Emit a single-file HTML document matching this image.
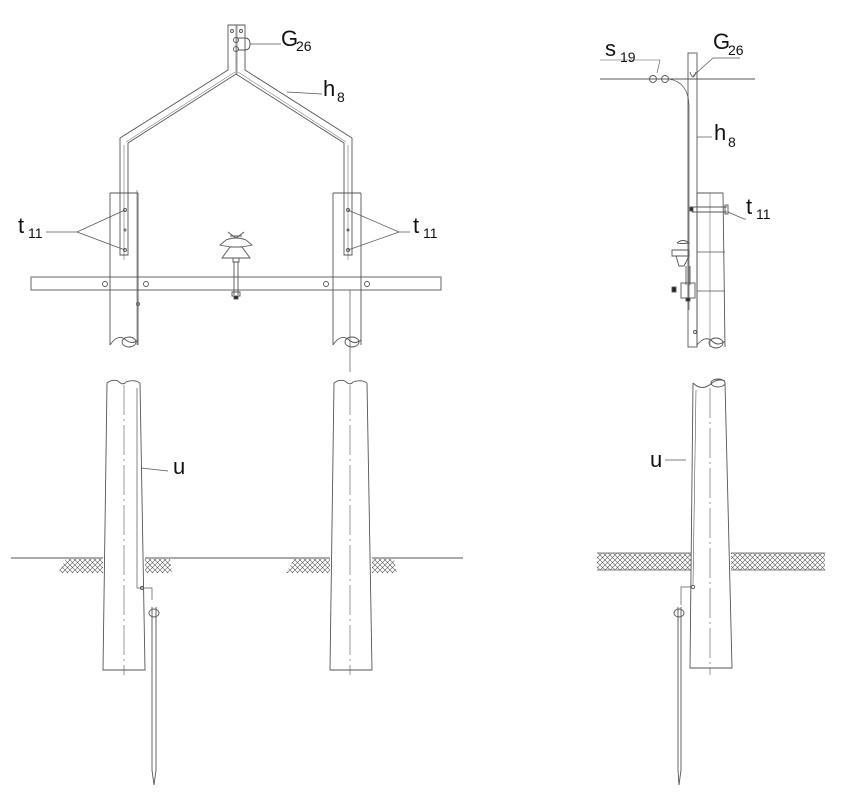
<!DOCTYPE html>
<html><head><meta charset="utf-8"><style>
html,body{margin:0;padding:0;background:#fff;}
svg{display:block;}
text{font-family:"Liberation Sans",sans-serif;fill:#111;}
</style></head><body>
<svg width="850" height="812" viewBox="0 0 850 812" xmlns="http://www.w3.org/2000/svg">
<defs>
<pattern id="hx" width="5" height="5" patternUnits="userSpaceOnUse">
<path d="M0 5 L5 0 M0 0 L5 5" stroke="#555" stroke-width="0.6"/>
</pattern>
</defs>
<g fill="none" stroke="#555" stroke-width="0.9">
<path d="M110 193 V345 M138 193 V345 M110 193 H138"/>
<path d="M110 345 Q118 333 126 340 Q132 345 138 340"/>
<ellipse cx="129" cy="342" rx="7" ry="5"/>
<path d="M333 193 V345 M361 193 V345 M333 193 H361"/>
<path d="M333 345 Q341 333 349 340 Q355 345 361 340"/>
<ellipse cx="352" cy="342" rx="7" ry="5"/>
<path d="M350 290 V372" stroke-width="0.7"/>
<path d="M137 190 V345" stroke-width="0.6"/>
<circle cx="138" cy="304" r="1.5"/>
<path d="M228 25 V70 L120 138 V255 H128 V143 L236 74 L344 143 V255 H352 V138 L245 70 V25 Z"/>
<path d="M236 25 V74 M237 25 V74" stroke-width="0.6"/>
<path d="M124 145 V260 M348 145 V260 M126 142 L235 72 M238 72 L346 142" stroke-width="0.5"/>
<circle cx="232" cy="31" r="1.5"/><circle cx="241" cy="31" r="1.5"/>
<circle cx="236" cy="40" r="2.5"/><circle cx="236" cy="49" r="2.5"/>
<path d="M238 38 H245 Q250 38 250 44 Q250 50 245 50 H238"/>
<path d="M250 44 H281" stroke-width="0.7"/>
<path d="M287 92 L322 94" stroke-width="0.7"/>
<circle cx="125" cy="210" r="1.5"/><circle cx="125" cy="250" r="1.5"/><circle cx="125" cy="230" r="1"/>
<circle cx="348" cy="210" r="1.5"/><circle cx="348" cy="250" r="1.5"/><circle cx="348" cy="230" r="1"/>
<path d="M46 232 H77 L125 210 M77 232 L125 250" stroke-width="0.7"/>
<path d="M410 232 H399 L348 210 M399 232 L348 250" stroke-width="0.7"/>
<rect x="31" y="277" width="410" height="13"/>
<circle cx="105" cy="284" r="2.5"/><circle cx="146" cy="284" r="2.5"/>
<circle cx="326" cy="284" r="2.5"/><circle cx="367" cy="284" r="2.5"/>
<path d="M228 232 Q233 236 236 238 Q239 236 244 232 M230 236 L242 236"/>
<path d="M226 240 Q236 236 246 240 L252 245 Q236 249 220 245 Z"/>
<path d="M230 247 H242 L250 258 H222 Z"/>
<path d="M233 258 V262 H239 V258"/>
<path d="M234 262 V295 M238 262 V295"/>
<path d="M232 292 H240 V296 H232 Z"/>
<rect x="234" y="296" width="4" height="3" fill="#222"/>
<path d="M107 383 L103 670 H145 L140 383"/>
<path d="M107 383 Q112 379 118 381 Q123 386 126 382 Q134 379 140 383"/>
<path d="M334 383 L330 670 H372 L367 383"/>
<path d="M334 383 Q339 379 345 381 Q350 386 353 382 Q361 379 367 383"/>
<path d="M124 385 V675 M350 385 V675" stroke-width="0.6" stroke-dasharray="30 4 2 4"/>
<path d="M11 558 H103 M145 558 H330 M372 558 H463"/>
<path d="M137 388 V588 H142 M142 588 H152 V600" stroke-width="0.7"/>
<circle cx="142" cy="588" r="1.6"/>
<ellipse cx="154" cy="613" rx="5" ry="4"/>
<path d="M152 607 V770 L154 785 L156 770 V607"/>
<path d="M141 468 L168 471" stroke-width="0.7"/>
<path d="M600 79 H755"/>
<circle cx="653" cy="79" r="3.5"/><circle cx="665" cy="79" r="3.5"/>
<path d="M669 79 Q688 82 689 105 V310" stroke-width="0.7"/>
<rect x="688" y="53" width="9" height="294"/>
<path d="M690 72 Q693 82 696 72"/>
<path d="M693 76 L713 58 H740" stroke-width="0.7"/>
<path d="M657 73 L660 60 H600" stroke-width="0.6"/>
<path d="M697 137 H712" stroke-width="0.7"/>
<path d="M697 193 H723 L725 347 M697 193 V347"/>
<path d="M697 345 Q705 335 712 341 Q718 347 725 341"/>
<ellipse cx="716" cy="343" rx="7" ry="5"/>
<path d="M710 193 V347" stroke-width="0.5"/>
<path d="M692 207 H727 M692 212 H727"/><rect x="725" y="205" width="3" height="9"/>
<rect x="690" y="207" width="3" height="4" fill="#222"/>
<path d="M728 212 L744 219 H746" stroke-width="0.7"/>
<path d="M697 252 H725 M697 291 H725" stroke-width="0.7"/>
<path d="M677 243 Q683 238 689 243 Q680 244 677 243 M672 250 H689 V256 H672 Z M676 256 H689 L684 266 H679 Z"/>
<path d="M686 266 V285 M690 266 V285"/>
<rect x="681" y="283" width="14" height="15"/>
<rect x="672" y="287" width="4" height="5" fill="#222"/>
<rect x="686" y="298" width="4" height="3" fill="#222"/>
<circle cx="695" cy="332" r="1.5"/>
<path d="M693 383 L690 668 H732 L725 383"/>
<path d="M693 383 Q702 392 712 383 Q718 378 725 381"/>
<ellipse cx="718" cy="383" rx="7" ry="4"/>
<path d="M710 388 V675" stroke-width="0.6" stroke-dasharray="30 4 2 4"/>
<path d="M696 390 L693 585" stroke-width="0.6"/>
<circle cx="693" cy="587" r="1.6"/>
<path d="M691 587 H681 V605" stroke-width="0.7"/>
<ellipse cx="679" cy="613" rx="5" ry="4"/>
<path d="M678 607 V770 L679 785 L681 770 V607"/>
<path d="M665 460 H686" stroke-width="0.7"/>
</g>
<g stroke="none" fill="url(#hx)">
<path d="M66 559 H103 V573 H58 Z"/>
<path d="M145 559 H170 L172 573 H145 Z"/>
<path d="M294 559 H330 V573 H286 Z"/>
<path d="M372 559 H394 L397 573 H372 Z"/>
<rect x="597" y="553" width="94" height="17"/>
<rect x="731" y="553" width="94" height="17"/>
</g>
<g stroke="#555" stroke-width="0.7" fill="none">
<path d="M597 553 H691 M597 570 H691 M731 553 H825 M731 570 H825"/>
</g>
<text x="281" y="46" font-size="22">G</text><text x="296" y="51" font-size="14">26</text>
<text x="323" y="96" font-size="22">h</text><text x="337" y="102" font-size="14">8</text>
<text x="18" y="233" font-size="22">t</text><text x="28" y="238" font-size="14">11</text>
<text x="413" y="233" font-size="22">t</text><text x="423" y="238" font-size="14">11</text>
<text x="173" y="474" font-size="22">u</text>
<text x="605" y="56" font-size="22">s</text><text x="620" y="62" font-size="14">19</text>
<text x="713" y="49" font-size="22">G</text><text x="728" y="55" font-size="14">26</text>
<text x="714" y="140" font-size="22">h</text><text x="728" y="147" font-size="14">8</text>
<text x="746" y="214" font-size="22">t</text><text x="756" y="219" font-size="14">11</text>
<text x="650" y="467" font-size="22">u</text>
</svg>
</body></html>
